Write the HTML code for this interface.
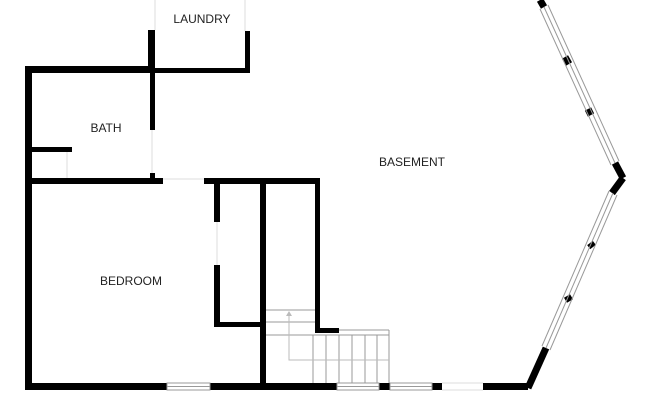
<!DOCTYPE html>
<html><head><style>body{margin:0;background:#fff}svg{display:block}text{font-family:"Liberation Sans",sans-serif;font-size:12px;fill:#222;text-anchor:middle}</style></head><body>
<svg width="650" height="420" viewBox="0 0 650 420">
<g fill="#000">
<rect x="25" y="66" width="7" height="324"/>
<rect x="25" y="66" width="130" height="7"/>
<rect x="148" y="30" width="7" height="43"/>
<rect x="150" y="73" width="5" height="57"/>
<rect x="150" y="173" width="5" height="8"/>
<rect x="155" y="68" width="95" height="5"/>
<rect x="245" y="31" width="5" height="42"/>
<rect x="32" y="147" width="40" height="5"/>
<rect x="32" y="178" width="131" height="6"/>
<rect x="204" y="178" width="116" height="6"/>
<rect x="214" y="184" width="6" height="38"/>
<rect x="214" y="265" width="6" height="62"/>
<rect x="214" y="322" width="48" height="5"/>
<rect x="260" y="184" width="6" height="206"/>
<rect x="315" y="178" width="5" height="155"/>
<rect x="315" y="328" width="24" height="5"/>
<rect x="25" y="383" width="142" height="7"/>
<rect x="210" y="383" width="127" height="7"/>
<rect x="379" y="383" width="11" height="7"/>
<rect x="432" y="383" width="10" height="7"/>
<rect x="483" y="383" width="45" height="7"/>
</g>
<g stroke="#000" stroke-width="7" fill="none">
<line x1="528" y1="388" x2="546" y2="348"/>
<line x1="612" y1="193" x2="623" y2="178"/>
<line x1="623" y1="178" x2="615" y2="163"/>
<line x1="540" y1="0" x2="544" y2="7"/>
<line x1="565" y1="57" x2="569" y2="64"/>
<line x1="588" y1="109" x2="591" y2="115"/>
<line x1="590" y1="243" x2="593" y2="247"/>
<line x1="567" y1="296" x2="570" y2="301"/>
</g>
<g stroke="#999" stroke-width="1" fill="none">
<line x1="544" y1="7" x2="615" y2="163"/><line x1="548" y1="5" x2="619" y2="161"/><line x1="540" y1="9" x2="611" y2="165"/>
<line x1="613" y1="193" x2="546" y2="348"/><line x1="617" y1="195" x2="550" y2="350"/><line x1="609" y1="191" x2="542" y2="346"/>
<rect x="167" y="383" width="43" height="7"/><line x1="167" y1="386.5" x2="210" y2="386.5"/>
<rect x="337" y="383" width="42" height="7"/><line x1="337" y1="386.5" x2="379" y2="386.5"/>
<rect x="390" y="383" width="42" height="7"/><line x1="390" y1="386.5" x2="432" y2="386.5"/>
<line x1="442" y1="383" x2="483" y2="383" stroke="#ddd"/><line x1="442" y1="390" x2="483" y2="390" stroke="#ddd"/>
<line x1="155" y1="0" x2="155" y2="30" stroke="#ddd"/><line x1="245" y1="0" x2="245" y2="31" stroke="#ddd"/>
<line x1="67" y1="152" x2="67" y2="178" stroke="#ddd"/><line x1="152" y1="130" x2="152" y2="173" stroke="#ddd"/>
<line x1="163" y1="179" x2="204" y2="179" stroke="#ddd"/><line x1="217" y1="222" x2="217" y2="265" stroke="#ddd"/>
<line x1="266" y1="310" x2="315" y2="310"/><line x1="266" y1="322" x2="315" y2="322"/><line x1="266" y1="335" x2="339" y2="335"/>
<line x1="339" y1="330" x2="389" y2="330"/><line x1="339" y1="335" x2="389" y2="335"/>
<line x1="389" y1="330" x2="389" y2="383"/><line x1="313" y1="335" x2="313" y2="383"/><line x1="326" y1="335" x2="326" y2="383"/><line x1="339" y1="335" x2="339" y2="383"/><line x1="352" y1="335" x2="352" y2="383"/><line x1="365" y1="335" x2="365" y2="383"/><line x1="377" y1="335" x2="377" y2="383"/>
<polyline points="389,360 289,360 289,314" stroke="#bbb"/>
</g>
<polygon points="286,316 292,316 289,311" fill="#bbb"/>
<text x="202" y="23">LAUNDRY</text>
<text x="106" y="132">BATH</text>
<text x="412" y="166">BASEMENT</text>
<text x="131" y="285">BEDROOM</text>
</svg>
</body></html>
